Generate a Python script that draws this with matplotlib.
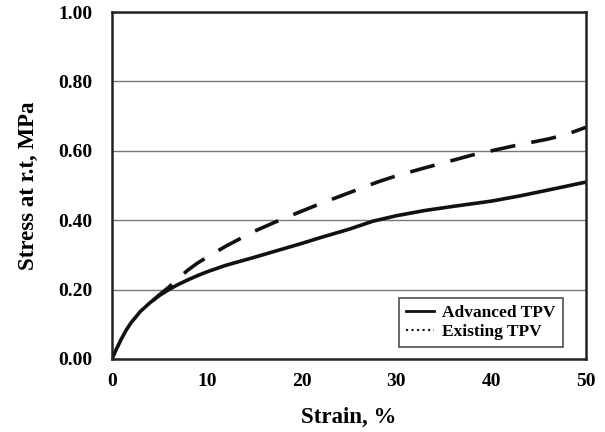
import matplotlib.pyplot as plt
from matplotlib.lines import Line2D

plt.rcParams['font.family'] = ['Liberation Serif', 'DejaVu Serif']
plt.rcParams['font.weight'] = 'bold'

# Advanced TPV (solid)
adv_x = [0, 0.5, 1, 1.5, 2, 3, 4, 5, 6, 7, 8, 9, 10, 12, 15, 18, 20, 22, 25, 27.5, 30, 33, 36, 40, 43, 46, 50]
adv_y = [0, 0.03, 0.058, 0.083, 0.104, 0.137, 0.162, 0.183, 0.2, 0.215, 0.228, 0.24, 0.251, 0.27, 0.293, 0.317, 0.333, 0.35, 0.374, 0.397, 0.413, 0.428, 0.44, 0.455, 0.47, 0.487, 0.51]

# Existing TPV (dashed)
ext_x = [4.3, 5, 6, 7, 8, 9, 10, 12, 15, 18, 20, 22, 25, 28, 30, 33, 36, 38, 40, 43, 46, 48, 50]
ext_y = [0.168, 0.185, 0.207, 0.232, 0.256, 0.276, 0.293, 0.325, 0.368, 0.404, 0.426, 0.448, 0.479, 0.51, 0.528, 0.551, 0.573, 0.588, 0.6, 0.618, 0.634, 0.648, 0.668]

fig = plt.figure(figsize=(6.05, 4.32), dpi=100)
ax = fig.add_axes([0.185, 0.169, 0.7836, 0.803])

ax.plot(adv_x, adv_y, '-', color='#111111', lw=2.6)
ax.plot(ext_x, ext_y, '--', color='#111111', lw=2.6, dashes=(7, 4.5))

ax.set_xlim(0, 50)
ax.set_ylim(0, 1.0)
ax.set_xticks([0, 10, 20, 30, 40, 50])
ax.set_yticks([0, 0.2, 0.4, 0.6, 0.8, 1.0])
ax.set_yticklabels(['%.2f' % v for v in [0, 0.2, 0.4, 0.6, 0.8, 1.0]])
ax.tick_params(length=0, labelsize=14)
ax.tick_params(axis='y', pad=14)
ax.tick_params(axis='x', pad=10)
ax.grid(axis='y', color='#777777', lw=1)
for s in ax.spines.values():
    s.set_linewidth(1.8)
    s.set_color('#222222')

ax.set_xlabel('Strain, %', fontsize=16.5, fontweight='bold', labelpad=12)
ax.set_ylabel('Stress at r.t, MPa', fontsize=16.5, fontweight='bold', labelpad=14)

handles = [Line2D([], [], color='#111111', lw=2, ls='-'),
           Line2D([], [], color='#111111', lw=1.5, ls=':')]
leg = ax.legend(handles, ['Advanced TPV', 'Existing TPV'], loc='lower right',
                bbox_to_anchor=(0.951, 0.035), borderaxespad=0, fontsize=12.5,
                frameon=True, fancybox=False, handlelength=1.6, handletextpad=0.5,
                borderpad=0.4, labelspacing=0.15)
leg.get_frame().set_edgecolor('#222222')
leg.get_frame().set_linewidth(1.2)

fig.savefig('out.png', dpi=100)
